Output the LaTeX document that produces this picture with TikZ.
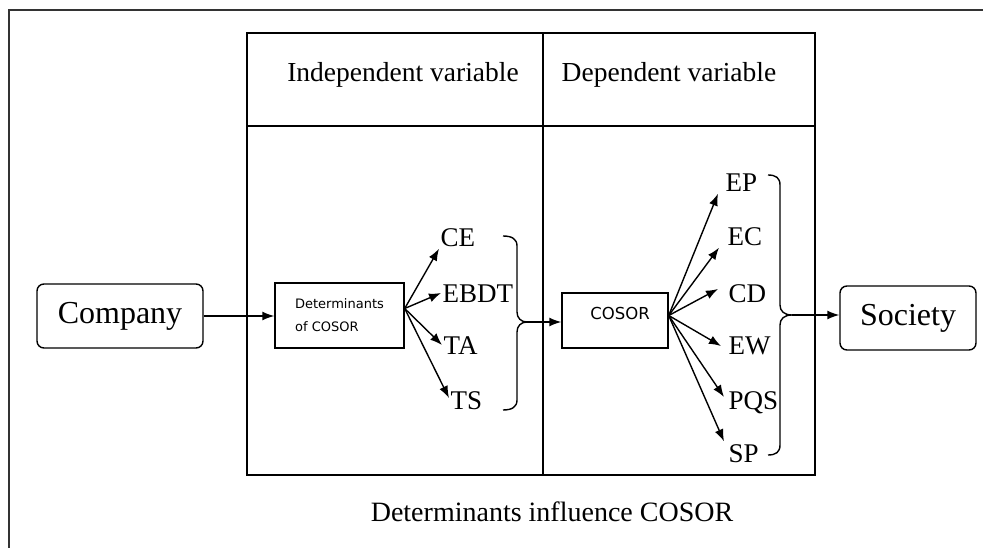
\documentclass[tikz,border=0pt]{standalone}
\usepackage{fontspec}
\setmainfont{Liberation Serif}
\newfontfamily\boxsans{DejaVu Sans}
\usetikzlibrary{arrows.meta,calc}
\begin{document}
\begin{tikzpicture}[x=1pt,y=-1pt,
  line width=1.4pt,
  arr/.style={-{Latex[length=12pt,width=9pt]}, line width=1.4pt},
  endbox/.style={draw, rounded corners=7pt, minimum width=166pt, minimum height=64pt, inner sep=0pt, font=\fontsize{32}{32}\selectfont},
  sqbox/.style={draw, inner sep=0pt},
  lab/.style={anchor=west, inner sep=1pt, text height=18pt, text depth=0pt, font=\fontsize{27}{27}\selectfont},
  head/.style={inner sep=0pt, font=\fontsize{27.5}{27.5}\selectfont},
  brace/.style={line width=1.4pt}]
\useasboundingbox (0,0) rectangle (983,548);
% outer frame (partly cut)
\draw[line width=2.2pt, black!80] (990,10) -- (9,10) -- (9,560);
% table
\draw (247,33) rectangle (815,475);
\draw (247,126) -- (815,126);
\draw (543,33) -- (543,475);
\node[head] (hind) at (403,75) {Independent variable};
\node[head] (hdep) at (669,75) {Dependent variable};
\node[inner sep=0pt, font=\fontsize{28}{28}\selectfont] (cap) at (552,512) {Determinants influence COSOR};
% end boxes
\node[endbox] (company) at (120,316) {Company};
\node[endbox, minimum width=136pt] (society) at (908,318) {Society};
% determinants box
\node[sqbox, minimum width=129pt, minimum height=65pt, align=left, font=\boxsans\fontsize{13}{23}\selectfont] (det) at (339.5,315.5) {Determinants\\of COSOR};
% cosor box
\node[sqbox, minimum width=106pt, minimum height=55pt] (cosor) at (615,320.5) {};
\node[inner sep=0pt, font=\boxsans\fontsize{16.5}{16.5}\selectfont] (cosortxt) at (620,313) {COSOR};
% left labels
\node[lab] (CE) at (439,238) {CE};
\node[lab] (EBDT) at (441,293) {EBDT};
\node[lab] (TA) at (442,345) {TA};
\node[lab] (TS) at (449,400) {TS};
% right labels
\node[lab] (EP) at (724,183) {EP};
\node[lab] (EC) at (726,237) {EC};
\node[lab] (CD) at (727,293) {CD};
\node[lab] (EW) at (727,345) {EW};
\node[lab] (PQS) at (727,400) {PQS};
\node[lab] (SP) at (727,453) {SP};
% sources
\coordinate (dsrc) at ($(det.east)+(0,-7)$);
\coordinate (csrc) at ($(cosor.east)+(0,-5)$);
% arrows
\draw[arr] (company.east) -- (company.east -| det.west);
\draw[arr] (dsrc) -- (CE.south west);
\draw[arr] (dsrc) -- (EBDT.west);
\draw[arr] (dsrc) -- (TA.west);
\draw[arr] (dsrc) -- ([yshift=2pt]TS.west);
\draw[arr] (csrc) -- ([xshift=-6pt]EP.south west);
\draw[arr] (csrc) -- ([xshift=-7pt]EC.south west);
\draw[arr] (csrc) -- ([xshift=-9pt,yshift=4pt]CD.west);
\draw[arr] (csrc) -- ([xshift=-6pt,yshift=-1pt]EW.west);
\draw[arr] (csrc) -- ([xshift=-3pt,yshift=3pt]PQS.west);
\draw[arr] (csrc) -- ([xshift=-3pt,yshift=1pt]SP.north west);
% braces
\coordinate (b1tip) at (527,322);
\draw[brace] (503,236) .. controls (512,236) and (517,239) .. (517,246) -- (517,312) .. controls (517,318) and (521,322) .. (b1tip) .. controls (521,322) and (517,326) .. (517,332) -- (517,400) .. controls (517,407) and (512,410) .. (503,410);
\coordinate (b2tip) at (792,315);
\draw[brace] (768,175) .. controls (776,175) and (780,178) .. (780,185) -- (780,305) .. controls (780,311) and (784,315) .. (b2tip) .. controls (784,315) and (780,319) .. (780,325) -- (780,445) .. controls (780,452) and (776,455) .. (768,455);
\draw[arr] (b1tip) -- (b1tip -| cosor.west);
\draw[arr] (b2tip) -- (b2tip -| society.west);
\end{tikzpicture}
\end{document}
